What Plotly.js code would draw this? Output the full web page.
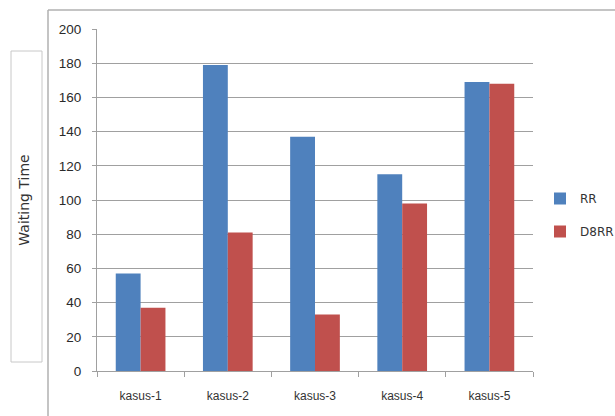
<!DOCTYPE html>
<html>
<head>
<meta charset="utf-8">
<script src="https://cdn.plot.ly/plotly-3.0.1.min.js"></script>
<style>
  html, body { margin: 0; padding: 0; background: #ffffff; }
  #chart { width: 615px; height: 416px; }
</style>
</head>
<body>
<div id="chart"></div>
<script>
// Waiting time per test case for the two schedulers
const categories = ['kasus-1', 'kasus-2', 'kasus-3', 'kasus-4', 'kasus-5'];
const rrValues = [57, 179, 137, 115, 169];
const d8rrValues = [37, 81, 33, 98, 168];
const seriesNames = ['RR', 'D8RR'];
const yTickValues = [0, 20, 40, 60, 80, 100, 120, 140, 160, 180, 200];

const BLUE = '#4F81BD';
const RED = '#C0504D';
const GRID = '#a0a0a0';

// plot area in pixels: left 97, right 533, top 29, bottom 371
const W = 615, H = 416;
const L = 97, R = 533, T = 29, B = 371;
const px = x => (x - L) / (R - L);
const py = y => (B - y) / (B - T);

const traces = [
  {
    type: 'bar', name: seriesNames[0], x: categories, y: rrValues,
    marker: { color: BLUE, line: { width: 0 } }, legendgroup: 'a'
  },
  {
    type: 'bar', name: seriesNames[1], x: categories, y: d8rrValues,
    marker: { color: RED, line: { width: 0 } }, legendgroup: 'b'
  }
];

const layout = {
  width: W, height: H,
  margin: { l: L, r: W - R, t: T, b: H - B, pad: 0, autoexpand: false },
  paper_bgcolor: '#ffffff',
  plot_bgcolor: '#ffffff',
  barmode: 'group',
  bargap: 0.43,
  bargroupgap: 0,
  showlegend: true,
  legend: {
    x: px(540), xanchor: 'left',
    y: py(184), yanchor: 'top',
    traceorder: 'grouped',
    tracegroupgap: 14,
    itemwidth: 30,
    font: { family: 'DejaVu Sans', size: 12, color: '#333333' },
    bgcolor: 'rgba(0,0,0,0)'
  },
  xaxis: {
    type: 'category',
    showgrid: false,
    showline: true, linecolor: GRID, linewidth: 1,
    ticks: 'outside', tickson: 'boundaries', ticklen: 5, tickcolor: GRID,
    ticklabelstandoff: 14,
    tickfont: { family: 'Liberation Sans', size: 12, color: '#333333' },
    fixedrange: true
  },
  yaxis: {
    range: [0, 200],
    tickvals: yTickValues,
    ticktext: yTickValues.map(String),
    showgrid: true, gridcolor: GRID, gridwidth: 1,
    zeroline: false,
    showline: true, linecolor: GRID, linewidth: 1,
    ticks: 'outside', ticklen: 4, tickcolor: GRID,
    ticklabelstandoff: 8,
    tickfont: { family: 'Liberation Sans', size: 13.5, color: '#2a2a2a' },
    title: {
      text: 'Waiting Time',
      standoff: 25,
      font: { family: 'DejaVu Sans', size: 14, color: '#333333' }
    },
    fixedrange: true
  },
  shapes: [
    // outer chart frame (left and top edges)
    {
      type: 'line', xref: 'paper', yref: 'paper',
      x0: px(48), x1: px(48), y0: py(10), y1: py(420),
      line: { color: '#b0b0b0', width: 1.5 }
    },
    {
      type: 'line', xref: 'paper', yref: 'paper',
      x0: px(48), x1: px(620), y0: py(10), y1: py(10),
      line: { color: '#b0b0b0', width: 1.5 }
    },
    // box around the axis title
    {
      type: 'rect', xref: 'paper', yref: 'paper',
      x0: px(11), x1: px(42), y0: py(51), y1: py(362),
      line: { color: '#c8c8c8', width: 1 },
      fillcolor: 'rgba(0,0,0,0)'
    }
  ]
};

Plotly.newPlot('chart', traces, layout, { displayModeBar: false, staticPlot: true });
</script>
</body>
</html>
